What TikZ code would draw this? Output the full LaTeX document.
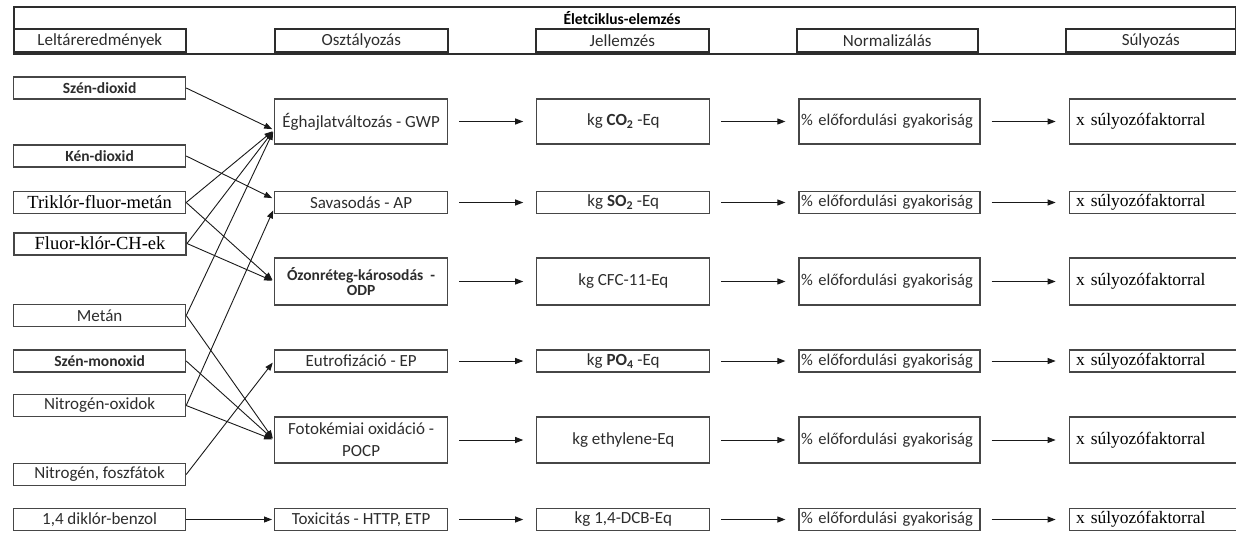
\documentclass[tikz,border=0pt]{standalone}
\usepackage{fontspec}
\setmainfont{Carlito}
\newfontfamily\tms{Liberation Serif}
\usetikzlibrary{arrows.meta, positioning, calc}
\definecolor{bC}{RGB}{70, 70, 70}
\definecolor{hC}{RGB}{45, 45, 45}
\definecolor{tC}{RGB}{45, 45, 45}
\definecolor{aC}{RGB}{25, 25, 25}
\newcommand{\fsans}{\fontsize{17}{19}\selectfont}
\newcommand{\fbold}{\fontsize{15.5}{17}\selectfont\bfseries}
\newcommand{\fserif}{\tms\fontsize{18.5}{20}\selectfont}
\newcommand{\fwgt}{\tms\fontsize{17.5}{19}\selectfont}
\newcommand{\pct}{\mbox{\% előfordulási gyakoriság}}
\tikzset{
  hd/.style   = {rectangle, draw=hC, line width=1.6pt, minimum width=#1,
                 minimum height=23pt, anchor=south west, inner sep=0pt,
                 font=\fsans, text=tC},
  inv/.style  = {rectangle, draw=bC, line width=1.2pt, minimum width=172pt,
                 minimum height=22pt, inner sep=1pt, anchor=west,
                 font=\fsans, text=tC},
  invb/.style = {inv, font=\fbold},
  invs/.style = {inv, font=\fserif, text=black},
  cls/.style  = {rectangle, draw=bC, line width=1.2pt, minimum width=173pt,
                 minimum height=#1, inner sep=1pt, anchor=west, align=center,
                 font=\fsans, text=tC},
  cls/.default= 22pt,
  chr/.style  = {rectangle, draw=bC, line width=1.2pt, minimum width=173pt,
                 minimum height=#1, inner sep=1pt, align=center,
                 font=\fsans, text=tC},
  chr/.default= 22pt,
  nrm/.style  = {rectangle, draw=bC, line width=1.2pt, text width=177pt,
                 inner xsep=2pt, inner ysep=1pt, minimum height=#1,
                 align=left, font=\fontsize{16.5}{19}\selectfont, text=tC},
  nrm/.default= 22pt,
  wgt/.style  = {rectangle, draw=bC, line width=1.2pt, text width=156pt,
                 inner xsep=7pt, inner ysep=1pt, minimum height=#1,
                 align=left, font=\fwgt, text=black},
  wgt/.default= 22pt,
  arr/.style  = {-{Triangle[length=8pt, width=6pt]}, line width=0.9pt, draw=aC},
  flow/.style = {arr, shorten <=11pt, shorten >=13pt},
  inarr/.style= {arr, shorten >=2pt},
}

\begin{document}
\begin{tikzpicture}[x=1pt, y=-1pt, node distance=88pt]
\useasboundingbox (0,0) rectangle (1236,533);

% ---- Header -----------------------------------------------------------------
\node[rectangle, draw=hC, line width=1.6pt, minimum width=1222pt,
      minimum height=47pt, anchor=north west] (lca) at (13,6) {};
\node[font=\fbold, text=black] (ttl) at (622,18) {Életciklus-elemzés};

\node[hd=172pt] (h1) at (13,53)   {Leltáreredmények};
\node[hd=173pt] (h2) at (274,53)  {Osztályozás};
\node[hd=173pt] (h3) at (535,53)  {Jellemzés};
\node[hd=181pt] (h4) at (796,53)  {Normalizálás};
\node[hd=170pt] (h5) at (1065,53) {Súlyozás};

% ---- Inventory column -------------------------------------------------------
\node[invb] (sdx) at (13,88)    {Szén-dioxid};
\node[invb] (kdx) at (13,156)   {Kén-dioxid};
\node[invs] (tfm) at (13,202.5) {Triklór-fluor-metán};
\node[invs, line width=2pt] (fkc) at (13,243.5) {Fluor-klór-CH-ek};
\node[inv]  (met) at (13,315.5) {Metán};
\node[invb] (smx) at (13,361)   {Szén-monoxid};
\node[inv]  (nox) at (13,405.5) {Nitrogén-oxidok};
\node[inv]  (nfs) at (13,474.5) {Nitrogén, foszfátok};
\node[inv]  (dkb) at (13,519.5) {1,4 diklór-benzol};

% ---- Classification column --------------------------------------------------
\node[cls=45pt] (gwp)  at (274,121.5) {Éghajlatváltozás - GWP};
\node[cls]      (ap)   at (274,202.5) {Savasodás - AP};
\node[cls=47pt, font=\fbold] (odp) at (274,281.5)
  {Ózonréteg-károsodás\ \ -\\[-2pt]ODP};
\node[cls]      (ep)   at (274,361)   {Eutrofizáció - EP};
\node[cls=46pt] (pocp) at (274,440)   {Fotokémiai oxidáció -\\[3pt]POCP};
\node[cls]      (tox)  at (274,519.5) {Toxicitás - HTTP, ETP};

% ---- Characterisation column ------------------------------------------------
\node[chr=45pt, right=of gwp]  (jgwp)  {kg \textbf{CO\textsubscript{2}} -Eq};
\node[chr,      right=of ap]   (jap)   {kg \textbf{SO\textsubscript{2}} -Eq};
\node[chr=47pt, right=of odp]  (jodp)  {kg CFC-11-Eq};
\node[chr,      right=of ep]   (jep)   {kg \textbf{PO\textsubscript{4}} -Eq};
\node[chr=46pt, right=of pocp] (jpocp) {kg ethylene-Eq};
\node[chr,      right=of tox]  (jtox)  {kg 1,4-DCB-Eq};

% ---- Normalisation column ---------------------------------------------------
\node[nrm=45pt, right=of jgwp]  (ngwp)  {\pct};
\node[nrm,      right=of jap]   (nap)   {\pct};
\node[nrm=47pt, right=of jodp]  (nodp)  {\pct};
\node[nrm,      right=of jep]   (nep)   {\pct};
\node[nrm=46pt, right=of jpocp] (npocp) {\pct};
\node[nrm,      right=of jtox]  (ntox)  {\pct};

% ---- Weighting column -------------------------------------------------------
\node[wgt=45pt, right=of ngwp]  (sgwp)  {x súlyozófaktorral};
\node[wgt,      right=of nap]   (sap)   {x súlyozófaktorral};
\node[wgt=47pt, right=of nodp]  (sodp)  {x súlyozófaktorral};
\node[wgt,      right=of nep]   (sep)   {x súlyozófaktorral};
\node[wgt=46pt, right=of npocp] (spocp) {x súlyozófaktorral};
\node[wgt,      right=of ntox]  (stox)  {x súlyozófaktorral};

% ---- Arrows along the rows --------------------------------------------------
\foreach \r in {gwp, ap, odp, ep, pocp, tox} {
  \draw[flow] (\r) -- (j\r);
  \draw[flow] (j\r) -- (n\r);
  \draw[flow] (n\r) -- (s\r);
}

% ---- Arrows: inventory -> category ------------------------------------------
\coordinate (gwpin) at ([yshift=-8.5pt]gwp.west);
\coordinate (apa)   at ([yshift=3.5pt]ap.west);
\coordinate (apb)   at ([yshift=-6pt]ap.west);

\foreach \s in {sdx, tfm, fkc, met}
  \draw[inarr] (\s.east) -- (gwpin);
\draw[inarr] (kdx.east) -- (apa);
\draw[inarr] (nox.east) -- (apb);
\foreach \s in {tfm, fkc}
  \draw[inarr] (\s.east) -- (odp.west);
\draw[inarr] (nfs.east) -- (ep.west);
\foreach \s in {met, smx, nox}
  \draw[inarr] (\s.east) -- (pocp.west);
\draw[inarr] (dkb.east) -- (tox.west);

\end{tikzpicture}
\end{document}
